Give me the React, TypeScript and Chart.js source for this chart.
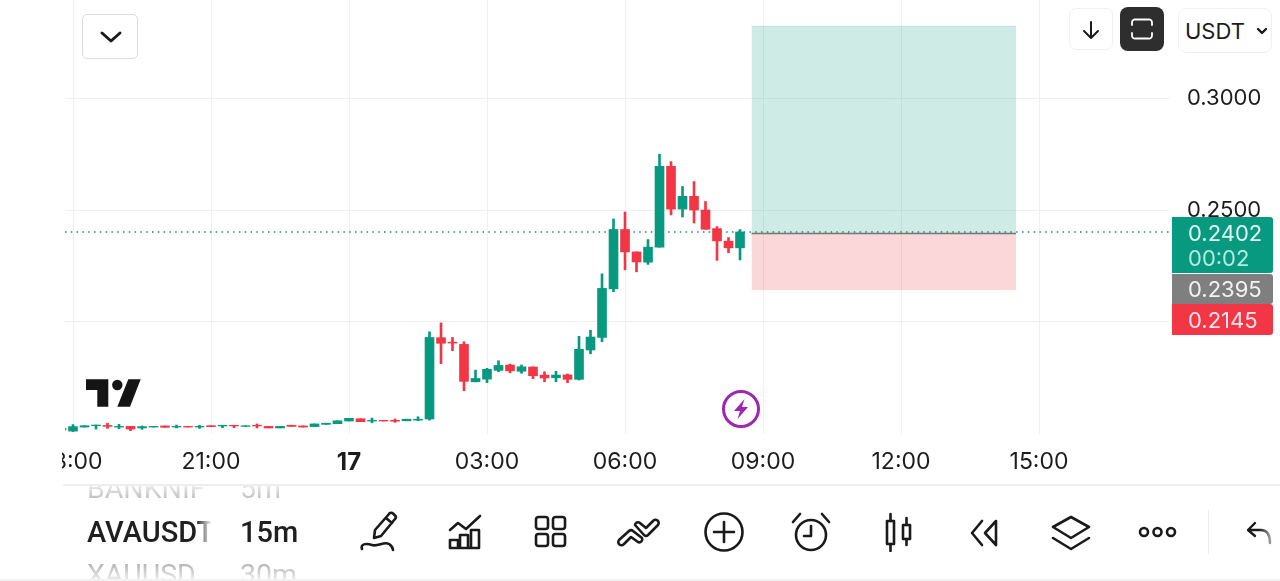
import React, { useEffect, useRef } from "react";
import { Chart, registerables } from "chart.js";

Chart.register(...registerables);

// Candle slot index: 0 = 18:00 on the 16th, one slot per 15 minutes
const firstIndex = -1;
const opens = [
  0.1518, 0.1513, 0.1531, 0.1537, 0.1538, 0.1531, 0.1534, 0.1527, 0.1531, 0.1536, 0.1531, 0.1534, 0.1531, 0.1537, 0.1536, 0.1539,
  0.1534, 0.1539, 0.1534, 0.1527, 0.1539, 0.1536, 0.1533, 0.1543, 0.1546, 0.1558, 0.1568, 0.1558, 0.1561, 0.1561, 0.1559, 0.1562,
  0.1567, 0.1930, 0.1910, 0.1900, 0.1733, 0.1745, 0.1784, 0.1808, 0.1780, 0.1799, 0.1763, 0.1751, 0.1764, 0.1744, 0.1875, 0.1931,
  0.2148, 0.2413, 0.2313, 0.2267, 0.2334, 0.2695, 0.2504, 0.2561, 0.2500, 0.2417, 0.2361, 0.2331,
];
const highs = [
  0.1525, 0.1542, 0.1537, 0.1540, 0.1548, 0.1543, 0.1534, 0.1536, 0.1534, 0.1536, 0.1540, 0.1534, 0.1539, 0.1537, 0.1539, 0.1539,
  0.1537, 0.1545, 0.1534, 0.1534, 0.1539, 0.1536, 0.1545, 0.1548, 0.1559, 0.1570, 0.1568, 0.1571, 0.1561, 0.1567, 0.1566, 0.1577,
  0.1956, 0.1996, 0.1931, 0.1912, 0.1785, 0.1793, 0.1827, 0.1812, 0.1808, 0.1800, 0.1778, 0.1780, 0.1768, 0.1936, 0.1963, 0.2215,
  0.2460, 0.2491, 0.2313, 0.2368, 0.2749, 0.2716, 0.2605, 0.2627, 0.2538, 0.2426, 0.2377, 0.2413,
];
const lows = [
  0.1518, 0.1511, 0.1531, 0.1522, 0.1525, 0.1524, 0.1515, 0.1521, 0.1531, 0.1530, 0.1527, 0.1531, 0.1525, 0.1533, 0.1528, 0.1528,
  0.1534, 0.1527, 0.1527, 0.1527, 0.1534, 0.1531, 0.1533, 0.1543, 0.1546, 0.1558, 0.1555, 0.1550, 0.1558, 0.1552, 0.1559, 0.1559,
  0.1562, 0.1814, 0.1872, 0.1693, 0.1733, 0.1729, 0.1778, 0.1773, 0.1771, 0.1747, 0.1733, 0.1733, 0.1729, 0.1741, 0.1858, 0.1912,
  0.2135, 0.2233, 0.2224, 0.2257, 0.2334, 0.2478, 0.2469, 0.2442, 0.2414, 0.2275, 0.2309, 0.2277,
];
const closes = [
  0.1524, 0.1533, 0.1537, 0.1540, 0.1534, 0.1534, 0.1522, 0.1533, 0.1534, 0.1530, 0.1534, 0.1531, 0.1534, 0.1533, 0.1539, 0.1536,
  0.1537, 0.1536, 0.1527, 0.1534, 0.1534, 0.1531, 0.1545, 0.1548, 0.1559, 0.1570, 0.1555, 0.1561, 0.1558, 0.1557, 0.1566, 0.1566,
  0.1931, 0.1905, 0.1906, 0.1735, 0.1748, 0.1789, 0.1806, 0.1782, 0.1800, 0.1760, 0.1750, 0.1763, 0.1744, 0.1878, 0.1933, 0.2150,
  0.2413, 0.2313, 0.2268, 0.2334, 0.2695, 0.2504, 0.2561, 0.2500, 0.2414, 0.2362, 0.2331, 0.2402,
];

const timeTickIndex = [0, 12, 24, 36, 48, 60, 72, 84];
const timeTickLabels = ["18:00", "21:00", "17", "03:00", "06:00", "09:00", "12:00", "15:00"];
const priceTicks = [0.2, 0.25, 0.3];

const lastPrice = 0.2402;
const countdown = "00:02";
const entryPrice = 0.2395;
const stopPrice = 0.2145;
const targetPrice = 0.3321;
const positionStart = 59;
const positionEnd = 82;

const UP = "#089981";
const DOWN = "#f23645";

const fmt = (v: number) => v.toFixed(4);

const Icon = ({ x, y, w, h, children, sw = 2.6 }: any) => (
  <svg
    width={w}
    height={h}
    viewBox={`0 0 ${w} ${h}`}
    fill="none"
    stroke="#1a1a1a"
    strokeWidth={sw}
    strokeLinecap="round"
    strokeLinejoin="round"
    style={{ position: "absolute", left: x, top: y }}
  >
    {children}
  </svg>
);

const txt = (extra: React.CSSProperties): React.CSSProperties => ({
  position: "absolute",
  whiteSpace: "nowrap",
  fontFamily: "Inter, sans-serif",
  ...extra,
});

const btn = (l: number, t: number, w: number, h: number, extra: React.CSSProperties = {}): React.CSSProperties => ({
  position: "absolute",
  left: l,
  top: t,
  width: w,
  height: h,
  boxSizing: "border-box",
  background: "#fff",
  ...extra,
});

export default function App() {
  const ref = useRef<HTMLCanvasElement>(null);

  useEffect(() => {
    const idx = opens.map((_, i) => firstIndex + i);
    const colors = opens.map((o, i) => (closes[i] >= o ? UP : DOWN));
    const chart = new Chart(ref.current as HTMLCanvasElement, {
      type: "bar",
      data: {
        datasets: [
          {
            type: "line",
            label: "target",
            data: [
              { x: positionStart, y: targetPrice },
              { x: positionEnd, y: targetPrice },
            ],
            borderColor: "rgba(8,153,129,0.12)",
            borderWidth: 1,
            pointRadius: 0,
            fill: { value: entryPrice },
            backgroundColor: "rgba(8,153,129,0.2)",
            order: 6,
          },
          {
            type: "line",
            label: "stop",
            data: [
              { x: positionStart, y: stopPrice },
              { x: positionEnd, y: stopPrice },
            ],
            borderColor: "rgba(242,54,69,0.12)",
            borderWidth: 1,
            pointRadius: 0,
            fill: { value: entryPrice },
            backgroundColor: "rgba(242,54,69,0.2)",
            order: 6,
          },
          {
            type: "line",
            label: "last",
            data: [
              { x: -0.696, y: lastPrice },
              { x: 95.39, y: lastPrice },
            ],
            borderColor: "#2f7f71",
            borderWidth: 1.4,
            borderDash: [1.5, 4.3],
            pointRadius: 0,
            order: 5,
          },
          {
            type: "line",
            label: "entry",
            data: [
              { x: positionStart, y: entryPrice },
              { x: positionEnd, y: entryPrice },
            ],
            borderColor: "#6f7a78",
            borderWidth: 1.6,
            pointRadius: 0,
            order: 4,
          },
          {
            type: "bar",
            label: "wicks",
            data: idx.map((x, i) => ({ x, y: [lows[i], highs[i]] })),
            backgroundColor: colors,
            borderWidth: 0,
            barThickness: 2,
            grouped: false,
            order: 2,
          },
          {
            type: "bar",
            label: "bodies",
            data: idx.map((x, i) => ({ x, y: [opens[i], closes[i]] })),
            backgroundColor: colors,
            borderWidth: 0,
            barThickness: 9,
            grouped: false,
            order: 1,
          },
        ],
      } as any,
      options: {
        responsive: false,
        animation: false,
        events: [],
        layout: { padding: { left: 65, right: 0, top: 0, bottom: 0 } },
        plugins: { legend: { display: false }, tooltip: { enabled: false } },
        scales: {
          x: {
            type: "linear",
            offset: false,
            min: -0.696,
            max: 95.39,
            grid: { offset: false, color: "#f0f0f0", lineWidth: 1, drawTicks: false },
            border: { display: false },
            afterBuildTicks: (axis: any) => {
              axis.ticks = timeTickIndex.map((value) => ({ value }));
            },
            afterFit: (axis: any) => {
              axis.height = 147;
              axis.paddingLeft = 0;
              axis.paddingRight = 0;
            },
            ticks: {
              autoSkip: false,
              maxRotation: 0,
              padding: 14,
              color: "#1c1c1c",
              callback: (v: any) => timeTickLabels[timeTickIndex.indexOf(Number(v))] ?? "",
              font: (ctx: any) => {
                const bold = ctx.tick && ctx.tick.label === "17";
                return { family: "Inter, sans-serif", size: bold ? 24 : 23, weight: bold ? 700 : 400 };
              },
            },
          },
          y: {
            type: "linear",
            position: "right",
            min: 0.15,
            max: 0.34375,
            grid: { color: "#f0f0f0", lineWidth: 1, drawTicks: false },
            border: { display: false },
            afterBuildTicks: (axis: any) => {
              axis.ticks = priceTicks.map((value) => ({ value }));
            },
            afterFit: (axis: any) => {
              axis.width = 110;
              axis.paddingTop = 0;
              axis.paddingBottom = 0;
            },
            ticks: {
              padding: 17,
              color: "#1c1c1c",
              font: { family: "Inter, sans-serif", size: 22 },
              callback: (v: any) => fmt(Number(v)),
            },
          },
        },
      } as any,
    });
    return () => chart.destroy();
  }, []);

  return (
    <div style={{ position: "fixed", left: 0, top: 0, width: 1280, height: 581, overflow: "hidden", background: "#fff" }}>
      <canvas ref={ref} width={1280} height={581} style={{ position: "absolute", left: 0, top: 0, display: "block" }} />

      {/* left clip of the first time label */}
      <div style={{ position: "absolute", left: 0, top: 440, width: 62, height: 40, background: "#fff" }} />

      {/* top-left collapse button */}
      <div style={btn(82, 14, 56, 45, { border: "1.5px solid #dcdcdc", borderRadius: 5 })} />
      <Icon x={99} y={30} w={24} h={14} sw={3}>
        <path d="M3 3 L12 11 L21 3" />
      </Icon>

      {/* top-right buttons */}
      <div style={btn(1069, 8, 44, 42, { border: "1.5px solid #f0f0f0", borderRadius: 7 })} />
      <Icon x={1081} y={20} w={20} h={20} sw={2}>
        <path d="M10 2 V18 M3 11 L10 18 L17 11" />
      </Icon>
      <div style={btn(1120, 7, 44, 44, { background: "#2e2e2e", borderRadius: 8 })} />
      <svg width={22} height={22} viewBox="0 0 22 22" fill="none" stroke="#fff" strokeWidth={1.8} strokeLinecap="round" style={{ position: "absolute", left: 1131, top: 18 }}>
        <path d="M1 7 V4.500 A3 3 0 0 1 4.500 1.500 H17.500 A3 3 0 0 1 21 4.500 V7 M1 15 V17.500 A3 3 0 0 0 4.500 20.500 H17.500 A3 3 0 0 0 21 17.500 V15" />
      </svg>
      <div style={btn(1178, 8, 94, 45, { border: "1.5px solid #f0f0f0", borderRadius: 8 })} />
      <span style={txt({ left: 1185, top: 18, fontSize: 22, lineHeight: "27px", color: "#1c1c1c" })}>USDT</span>
      <Icon x={1256} y={27} w={12} h={8} sw={2.4}>
        <path d="M2 2 L6 6 L10 2" />
      </Icon>

      {/* price tags */}
      <div style={btn(1172, 217, 101, 56, { background: UP, borderRadius: "0 3px 3px 0" })} />
      <div style={btn(1172, 274, 101, 30, { background: "#7f7f7f", borderRadius: "0 3px 3px 0" })} />
      <div style={btn(1172, 304, 101, 31, { background: DOWN, borderRadius: "0 3px 3px 0" })} />
      <span style={txt({ left: 1188, top: 220, fontSize: 22, lineHeight: "26px", color: "#e3f6f1" })}>{fmt(lastPrice)}</span>
      <span style={txt({ left: 1188, top: 245, fontSize: 22, lineHeight: "26px", color: "#b4ebdd" })}>{countdown}</span>
      <span style={txt({ left: 1188, top: 276, fontSize: 22, lineHeight: "26px", color: "#f2f2f2" })}>{fmt(entryPrice)}</span>
      <span style={txt({ left: 1188, top: 307, fontSize: 22, lineHeight: "26px", color: "#fde6e8" })}>{fmt(stopPrice)}</span>

      {/* logo */}
      <svg width={56} height={29} viewBox="0 0 56 29" style={{ position: "absolute", left: 86, top: 379 }} fill="#151515">
        <path d="M0 0.300 H22.300 V27.700 H11.300 V11 H0 Z" />
        <circle cx={31.300} cy={6} r={5.200} />
        <path d="M42.300 0.300 H54.700 L44 27.700 H31.300 Z" />
      </svg>

      {/* lightning marker */}
      <svg width={40} height={40} viewBox="0 0 40 40" style={{ position: "absolute", left: 721, top: 389 }}>
        <circle cx={20} cy={20} r={17.500} fill="#fff" stroke="#9c27b0" strokeWidth={3} />
        <path d="M23.500 10 L13 22 H19 L16.500 30 L27 18 H21 Z" fill="#9c27b0" />
      </svg>

      {/* bottom panel */}
      <div style={{ position: "absolute", left: 63, top: 484, width: 1217, height: 2, background: "#eeeeee" }} />
      <div style={{ position: "absolute", left: 0, top: 579, width: 1280, height: 2, background: "#f2f2f2" }} />

      <div style={{ position: "absolute", left: 0, top: 486, width: 320, height: 93, overflow: "hidden" }}>
        <span style={txt({ fontFamily: "Roboto, sans-serif", left: 87, top: -12, fontSize: 28.500, lineHeight: "30px", color: "#b5b5b5", width: 122, overflow: "hidden" })}>BANKNIFTY</span>
        <span style={txt({ fontFamily: "Roboto, sans-serif", left: 240, top: -12, fontSize: 28.500, lineHeight: "30px", color: "#b5b5b5" })}>5m</span>
        <span style={txt({ fontFamily: "Roboto, sans-serif", left: 87, top: 30, fontSize: 29, lineHeight: "32px", fontWeight: 500, color: "#1f1f1f", width: 124, overflow: "hidden" })}>AVAUSDT</span>
        <span style={txt({ fontFamily: "Roboto, sans-serif", left: 240, top: 30, fontSize: 29, lineHeight: "32px", fontWeight: 500, color: "#1f1f1f" })}>15m</span>
        <span style={txt({ fontFamily: "Roboto, sans-serif", left: 87, top: 74, fontSize: 28.500, lineHeight: "30px", color: "#b5b5b5", width: 122, overflow: "hidden" })}>XAUUSD</span>
        <span style={txt({ fontFamily: "Roboto, sans-serif", left: 240, top: 74, fontSize: 28.500, lineHeight: "30px", color: "#b5b5b5" })}>30m</span>
        <div style={{ position: "absolute", left: 196, top: 0, width: 16, height: 93, background: "linear-gradient(90deg, rgba(255,255,255,0), #fff)" }} />
        <div style={{ position: "absolute", left: 0, top: 0, width: 320, height: 16, background: "linear-gradient(180deg, rgba(255,255,255,.7), rgba(255,255,255,0))" }} />
        <div style={{ position: "absolute", left: 0, top: 78, width: 320, height: 15, background: "linear-gradient(0deg, rgba(255,255,255,.7), rgba(255,255,255,0))" }} />
      </div>

      {/* pencil */}
      <Icon x={358} y={510} w={40} h={44}>
        <path d="M16 28 L17 20 L31 4 A2.500 2.500 0 0 1 35 3.500 L37 5.500 A2.500 2.500 0 0 1 37 9 L23 26 Z M28 8 L34 13" />
        <path d="M4 39 C2 34 8 33 14 35 C20 37 26 31 31 34 C34 36 35 38 35 40" />
      </Icon>
      {/* indicators */}
      <Icon x={447} y={513} w={36} h={38}>
        <path d="M3 17 L11 10 L19 16 L33 3" />
        <path d="M3 35 V27 H11 V35 Z M13 35 V22 H21 V35 Z M24 35 V17 H32 V35 Z M3 35 H32" />
      </Icon>
      {/* layouts */}
      <Icon x={533} y={514} w={36} h={36}>
        <rect x={3} y={3} width={12} height={12} rx={2.500} />
        <rect x={20} y={3} width={12} height={12} rx={2.500} />
        <rect x={3} y={20} width={12} height={12} rx={2.500} />
        <rect x={20} y={20} width={12} height={12} rx={2.500} />
      </Icon>
      {/* compare */}
      <Icon x={615} y={516} w={46} h={32}>
        <path d="M4 24 L14 15 A3 3 0 0 1 18 15 L27 22 A3 3 0 0 1 23 26 L16 21 L9 28 A3 3 0 0 1 4 24 Z" />
        <path d="M20 9 A3 3 0 0 1 25 7 L31 12 L38 5 A3 3 0 0 1 43 9 L33 19 A3 3 0 0 1 29 19 Z" />
      </Icon>
      {/* add */}
      <Icon x={703} y={511} w={42} h={42}>
        <circle cx={21} cy={21} r={18.500} />
        <path d="M21 11 V31 M11 21 H31" />
      </Icon>
      {/* alarm */}
      <Icon x={790} y={511} w={42} h={42}>
        <circle cx={21} cy={24} r={15} />
        <path d="M21 15 V25 H14 M3 11 L10 3 M39 11 L32 3" />
      </Icon>
      {/* candle type */}
      <Icon x={882} y={512} w={36} h={40}>
        <rect x={5} y={9} width={7} height={23} />
        <path d="M8.500 2 V9 M8.500 32 V39" />
        <rect x={21} y={13} width={7} height={14} />
        <path d="M24.500 6 V13 M24.500 27 V33" />
      </Icon>
      {/* replay */}
      <Icon x={968} y={518} w={34} h={30}>
        <path d="M14 3 L4 15 L14 27" />
        <path d="M28 3 L17 15 L28 27 Z" />
      </Icon>
      {/* layers */}
      <Icon x={1050} y={514} w={42} h={40}>
        <path d="M21 3 L39 13 L21 24 L3 13 Z" />
        <path d="M3 24 L21 35 L39 24" />
      </Icon>
      {/* more */}
      <Icon x={1137} y={522} w={42} h={20}>
        <circle cx={7} cy={10} r={4} />
        <circle cx={20.500} cy={10} r={4} />
        <circle cx={34} cy={10} r={4} />
      </Icon>
      <div style={{ position: "absolute", left: 1208, top: 510, width: 1, height: 44, background: "#eeeeee" }} />
      {/* undo */}
      <svg width={26} height={24} viewBox="0 0 26 24" fill="none" strokeWidth={2.400} strokeLinecap="round" strokeLinejoin="round" style={{ position: "absolute", left: 1246, top: 521 }}>
        <defs>
          <linearGradient id="undoFade" x1="0" x2="1" y1="0" y2="0">
            <stop offset="0.5" stopColor="#1a1a1a" />
            <stop offset="1" stopColor="#9a9a9a" />
          </linearGradient>
        </defs>
        <path d="M9 2 L2 9 L9 15 M3 9 H15 C21 9 24 13 24 22" stroke="url(#undoFade)" />
      </svg>
    </div>
  );
}
